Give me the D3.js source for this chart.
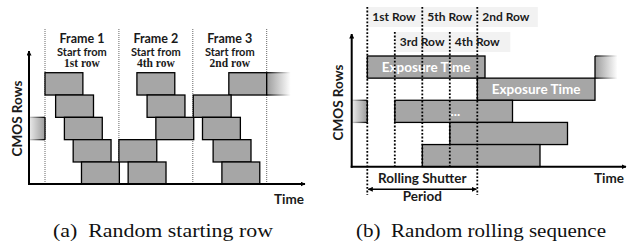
<!DOCTYPE html>
<html lang="en">
<head>
<meta charset="UTF-8">
<title>Rolling shutter timing</title>
<script src="https://d3js.org/d3.v7.min.js"></script>
<style>
  body { margin: 0; background: #fff; }
  svg { display: block; }
  .lbl { font-family: Lato, sans-serif; font-weight: 700; fill: #1a1a1a; }
  .ser { font-family: 'Liberation Serif', serif; font-weight: 700; fill: #1a1a1a; }
  .cap { font-family: 'Liberation Serif', serif; fill: #111; }
  .box { fill: #a6a6a6; stroke: #000; stroke-width: 1.3; }
</style>
</head>
<body>
<svg width="637" height="244"></svg>
<script>
const rows = ["Row 1", "Row 2", "Row 3", "Row 4", "Row 5"];

// (a) random starting row
const frameNames = ["Frame 1", "Frame 2", "Frame 3"];
const frameFirst = ["1st row", "4th row", "2nd row"];
const frameEdges = [0, 8, 16, 24];
const frameStarts = [            // start time of rows 1..5 in each frame
  [0, 1.15, 2.1, 3.05, 3.95],
  [9.95, 11.05, 12.0, 8.0, 9.0],
  [19.9, 16.05, 17.05, 18.2, 19.15]
];
const exposureA = 4.1;
const partialA = [{row: "Row 3", t0: -1.75, t1: 0, fade: "in"}, {row: "Row 1", t0: 24, t1: 26.6, fade: "out"}];

// (b) random rolling sequence
const seqStarts = [0, 4, 1, 3, 2];   // start slot of rows 1..5
const exposureB = 4.28;
const seqTop = [["1st Row", 0], ["5th Row", 2], ["2nd Row", 4]];
const seqLow = [["3rd Row", 1], ["4th Row", 3]];
const partialB = [{row: "Row 3", t0: -0.57, t1: 0, fade: "in"}, {row: "Row 1", t0: 4 + exposureB, t1: 9.1, fade: "out"}];

const svg = d3.select("svg");
const defs = svg.append("defs");

function grad(id, a, b) {
  const g = defs.append("linearGradient").attr("id", id);
  g.append("stop").attr("offset", "0%").attr("stop-color", a);
  g.append("stop").attr("offset", "100%").attr("stop-color", b);
}
grad("fillIn", "#ececec", "#9c9c9c");
grad("fillOut", "#9c9c9c", "#ffffff");
grad("lineIn", "#d8d8d8", "#000");
grad("lineOut", "#000", "#ffffff");

function marker(id, orient) {
  defs.append("marker").attr("id", id)
    .attr("viewBox", "0 0 10 10").attr("refX", 9).attr("refY", 5)
    .attr("markerWidth", 5).attr("markerHeight", 5)
    .attr("markerUnits", "userSpaceOnUse").attr("orient", orient)
    .append("path").attr("d", "M0,0L10,5L0,10z").attr("fill", "#000");
}
marker("arr", "auto");
marker("arr2", "auto-start-reverse");

function axes(x0, y0, xEnd, yTop) {
  svg.append("line").attr("x1", x0).attr("y1", y0 + 1).attr("x2", x0).attr("y2", yTop)
    .attr("stroke", "#000").attr("stroke-width", 2).attr("marker-end", "url(#arr)");
  svg.append("line").attr("x1", x0 - 1).attr("y1", y0).attr("x2", xEnd).attr("y2", y0)
    .attr("stroke", "#000").attr("stroke-width", 2).attr("marker-end", "url(#arr)");
}

function partials(data, x, y) {
  data.forEach(p => {
    const x0 = x(p.t0), x1 = x(p.t1), ya = y(p.row), yb = ya + y.bandwidth();
    const inn = p.fade === "in";
    svg.append("rect").attr("x", x0).attr("y", ya).attr("width", x1 - x0).attr("height", yb - ya)
      .attr("fill", inn ? "url(#fillIn)" : "url(#fillOut)");
    [ya, yb].forEach(yy => svg.append("rect").attr("x", x0).attr("y", yy - 0.65)
      .attr("width", x1 - x0).attr("height", 1.3).attr("fill", inn ? "url(#lineIn)" : "url(#lineOut)"));
    const xe = inn ? x1 : x0;
    svg.append("line").attr("x1", xe).attr("x2", xe).attr("y1", ya).attr("y2", yb)
      .attr("stroke", "#000").attr("stroke-width", 1.3);
  });
}

// ---------- panel (a) ----------
const xA = d3.scaleLinear().domain([0, 24]).range([45, 266.7]);
const yA = d3.scaleBand().domain(rows).range([72.7, 184.3]);

svg.append("g").selectAll("line").data(frameEdges).join("line")
  .attr("x1", d => xA(d)).attr("x2", d => xA(d)).attr("y1", 29).attr("y2", 184)
  .attr("stroke", "#555").attr("stroke-width", 0.9).attr("stroke-dasharray", "1,1");

const boxesA = frameStarts.flatMap(fs => fs.map((s, i) => ({row: rows[i], s})));
svg.append("g").selectAll("rect").data(boxesA).join("rect").attr("class", "box")
  .attr("x", d => xA(d.s)).attr("y", d => yA(d.row))
  .attr("width", xA(exposureA) - xA(0)).attr("height", yA.bandwidth());

partials(partialA, xA, yA);

const ft = svg.append("g").selectAll("g").data(frameNames).join("g")
  .attr("transform", (d, i) => `translate(${xA((frameEdges[i] + frameEdges[i + 1]) / 2)},0)`)
  .attr("text-anchor", "middle");
ft.append("text").attr("class", "lbl").attr("y", 43).attr("font-size", 12.5).text(d => d);
ft.append("text").attr("class", "lbl").attr("y", 55.5).attr("font-size", 11).text("Start from");
ft.append("text").attr("class", "ser").attr("y", 67).attr("font-size", 11.5).text((d, i) => frameFirst[i]);

axes(29, 184, 305, 51);
svg.append("text").attr("class", "lbl").attr("font-size", 13.5)
  .attr("transform", "translate(22,118.5) rotate(-90)").attr("text-anchor", "middle").text("CMOS Rows");
svg.append("text").attr("class", "lbl").attr("font-size", 13.5).attr("x", 304).attr("y", 204)
  .attr("text-anchor", "end").text("Time");

// ---------- panel (b) ----------
const xB = d3.scaleLinear().domain([0, 4]).range([367.3, 477.3]);
const yB = d3.scaleBand().domain(rows).range([56, 166.7]);

// sequence label strips
svg.append("rect").attr("x", xB(0)).attr("y", 7).attr("width", xB(6.2) - xB(0)).attr("height", 20).attr("fill", "#f2f2f2");
svg.append("rect").attr("x", xB(1)).attr("y", 32).attr("width", xB(5.2) - xB(1)).attr("height", 20).attr("fill", "#f2f2f2");

const boxesB = seqStarts.map((s, i) => ({row: rows[i], s}));
svg.append("g").selectAll("rect").data(boxesB).join("rect").attr("class", "box")
  .attr("x", d => xB(d.s)).attr("y", d => yB(d.row))
  .attr("width", xB(exposureB) - xB(0)).attr("height", yB.bandwidth());

partials(partialB, xB, yB);

const barText = [["Row 1", "Exposure Time"], ["Row 2", "Exposure Time"], ["Row 3", "..."]];
svg.append("g").selectAll("text").data(barText).join("text").attr("class", "lbl")
  .attr("font-size", 13.5).style("fill", "#fff").attr("text-anchor", "middle")
  .attr("x", d => { const s = seqStarts[rows.indexOf(d[0])]; return d[1] === "..." ? xB(s + 2.2) : xB(s + exposureB / 2); })
  .attr("y", d => yB(d[0]) + yB.bandwidth() / 2 + 5)
  .text(d => d[1]);

// dotted slot lines
const slotLines = [[0, 7, 195], [1, 32, 166.7], [2, 7, 166.7], [3, 32, 166.7], [4, 7, 195]];
svg.append("g").selectAll("line").data(slotLines).join("line")
  .attr("x1", d => xB(d[0])).attr("x2", d => xB(d[0])).attr("y1", d => d[1]).attr("y2", d => d[2])
  .attr("stroke", "#000").attr("stroke-width", 1.8).attr("stroke-dasharray", "1.8,1.8");

svg.append("g").selectAll("text").data(seqTop).join("text").attr("class", "lbl").attr("font-size", 12)
  .attr("x", d => xB(d[1]) + 5).attr("y", 21).text(d => d[0]);
svg.append("g").selectAll("text").data(seqLow).join("text").attr("class", "lbl").attr("font-size", 12)
  .attr("x", d => xB(d[1]) + 5).attr("y", 46).text(d => d[0]);

axes(351.7, 166.7, 626, 34);
svg.append("text").attr("class", "lbl").attr("font-size", 13.5)
  .attr("transform", "translate(343,102.5) rotate(-90)").attr("text-anchor", "middle").text("CMOS Rows");
svg.append("text").attr("class", "lbl").attr("font-size", 13.5).attr("x", 624).attr("y", 183.3)
  .attr("text-anchor", "end").text("Time");

svg.append("line").attr("x1", xB(0) + 1).attr("x2", xB(4) - 1).attr("y1", 189.3).attr("y2", 189.3)
  .attr("stroke", "#000").attr("stroke-width", 1.6)
  .attr("marker-start", "url(#arr2)").attr("marker-end", "url(#arr)");
svg.append("text").attr("class", "lbl").attr("font-size", 13.5).attr("text-anchor", "middle")
  .attr("x", xB(2)).attr("y", 182.7).text("Rolling Shutter");
svg.append("text").attr("class", "lbl").attr("font-size", 13.5).attr("text-anchor", "middle")
  .attr("x", xB(2)).attr("y", 200.5).text("Period");

// captions
svg.append("text").attr("class", "cap").attr("font-size", 19).attr("x", 53).attr("y", 237)
  .attr("textLength", 220).attr("lengthAdjust", "spacingAndGlyphs").attr("xml:space", "preserve")
  .text("(a)  Random starting row");
svg.append("text").attr("class", "cap").attr("font-size", 19).attr("x", 356).attr("y", 237)
  .attr("textLength", 250).attr("lengthAdjust", "spacingAndGlyphs").attr("xml:space", "preserve")
  .text("(b)  Random rolling sequence");
</script>
</body>
</html>
